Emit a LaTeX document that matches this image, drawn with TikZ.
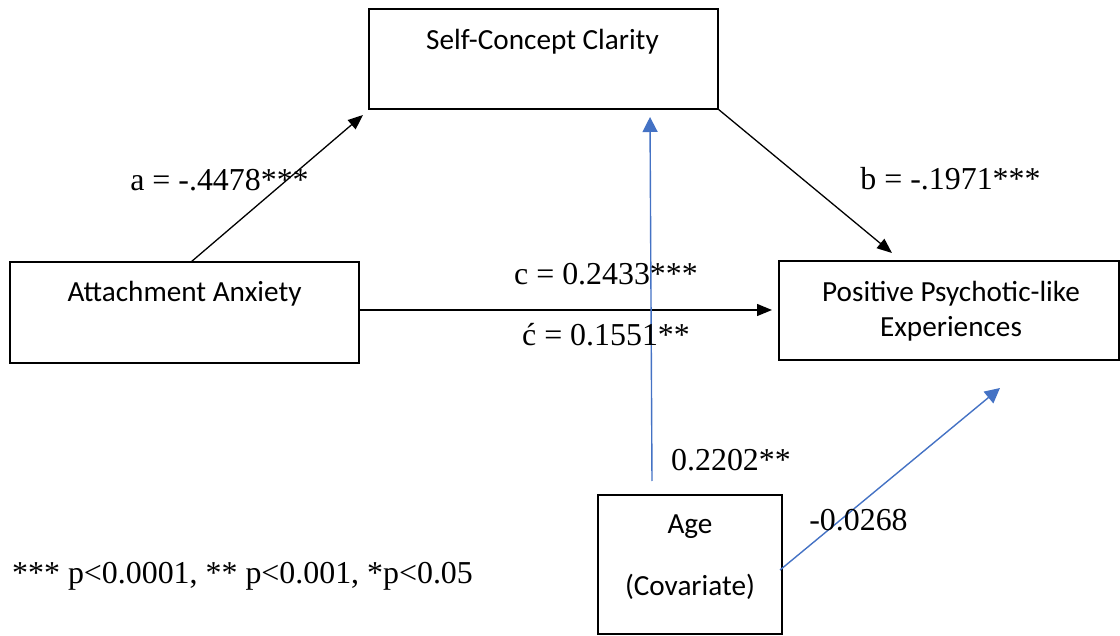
\documentclass[tikz,border=0pt]{standalone}
\usepackage{fontspec}
\setmainfont{Liberation Serif}
\newfontfamily\boxfont{Carlito}
\usetikzlibrary{arrows.meta,calc}
\definecolor{arrowblue}{RGB}{68,114,196}
\tikzset{
  boxnode/.style={draw=black, line width=2pt, inner sep=0pt, outer sep=0pt},
  boxtext/.style={font=\boxfont\fontsize{29.2}{34}\selectfont, anchor=base, inner sep=0pt},
  coef/.style={font=\fontsize{31.9}{38}\selectfont, anchor=base, inner sep=0pt},
  blackarrow/.style={draw=black, line width=1.3pt, -{Triangle[length=15pt,width=12pt]}},
  bluearrow/.style={draw=arrowblue, line width=1.4pt, -{Triangle[length=15pt,width=15pt]}},
}
\begin{document}
\begin{tikzpicture}[x=1pt,y=-1pt]
\useasboundingbox (0,0) rectangle (1120,636);
% boxes
\node[boxnode, minimum width=349pt, minimum height=100pt] (scc) at (543.5,59) {};
\node[boxnode, minimum width=349pt, minimum height=101pt] (att) at (184.5,312.5) {};
\node[boxnode, minimum width=340pt, minimum height=99pt] (ppe) at (949,310.5) {};
\node[boxnode, minimum width=184pt, minimum height=139pt] (age) at (690,564.5) {};
% box texts
\node[boxtext] (scct) at (542.5,50) {Self-Concept Clarity};
\node[boxtext] (attt) at (184.5,302) {Attachment Anxiety};
\node[boxtext] (ppet1) at (951,302) {Positive Psychotic-like};
\node[boxtext] (ppet2) at (951,337) {Experiences};
\node[boxtext] (aget1) at (690,533) {Age};
\node[boxtext] (aget2) at (690,595) {(Covariate)};
% connectors
\draw[blackarrow] ($(att.north west)+(181,0)$) -- ($(scc.south west)+(-6,6)$);
\draw[blackarrow] (scc.south east) -- ($(ppe.north west)+(113,-8)$);
\draw[blackarrow] ($(att.east)+(0,-2.5)$) -- ($(ppe.west)+(-7,-0.5)$);
\draw[bluearrow] ($(age.north west)+(54,-14)$) -- ($(scc.south west)+(281,8)$);
\draw[bluearrow] ($(age.east)+(-2,5.5)$) -- ($(ppe.south west)+(221,28)$);
% coefficient labels
\node[coef] (la) at (219.5,191) {a = -.4478***};
\node[coef] (lb) at (950.5,190) {b = -.1971***};
\node[coef] (lc) at (606,285) {c = 0.2433***};
\node[coef] (lcp) at (606,346) {ć = 0.1551**};
\node[coef] (lage1) at (731,470) {0.2202**};
\node[coef] (lage2) at (858.5,530) {-0.0268};
\node[coef, anchor=base west] (note) at (12,583) {*** p<0.0001, ** p<0.001, *p<0.05};
\end{tikzpicture}
\end{document}
